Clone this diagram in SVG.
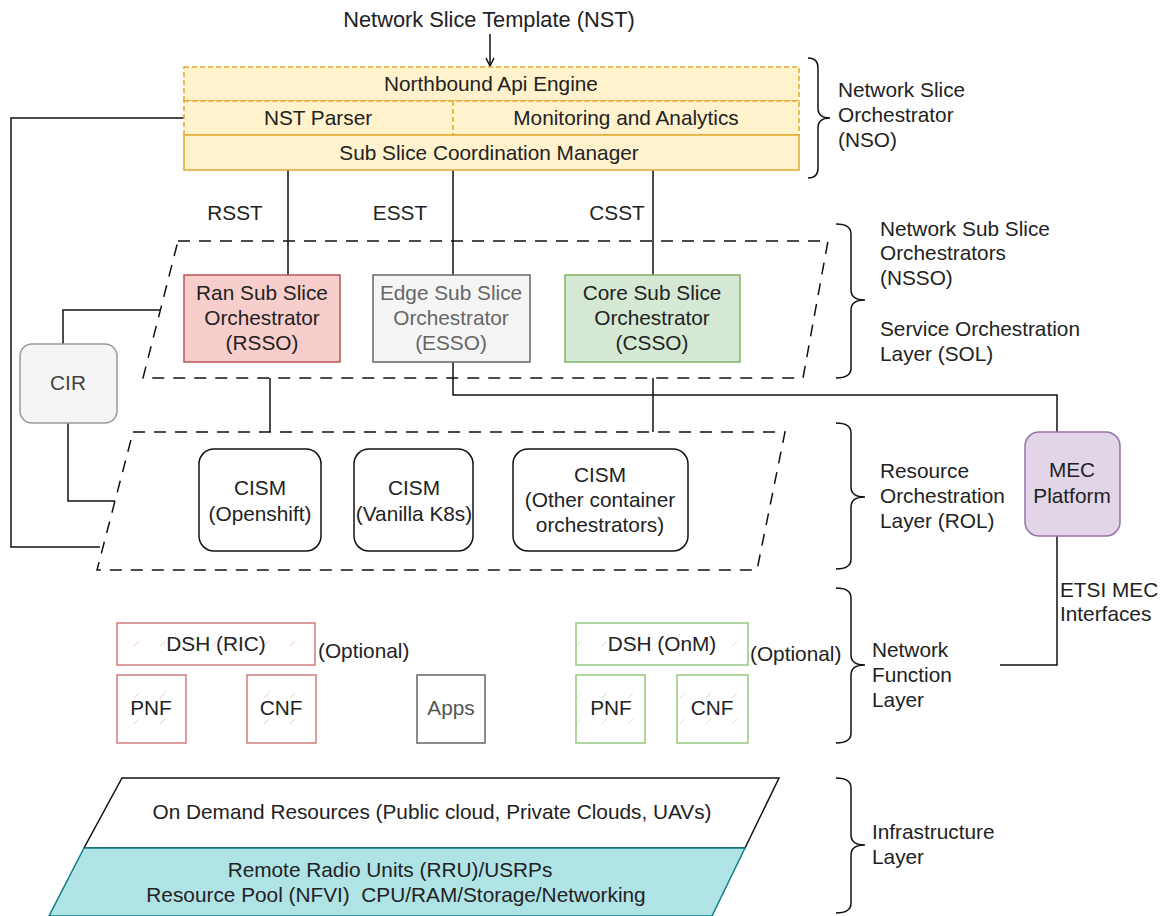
<svg xmlns="http://www.w3.org/2000/svg" width="1170" height="916" viewBox="0 0 1170 916">
<defs>
<style>
text{font-family:"Liberation Sans",Arial,sans-serif;font-size:20.8px;fill:#222}
.c{text-anchor:middle}
.ln{fill:none;stroke:#111;stroke-width:1.5}
.dash{fill:none;stroke:#111;stroke-width:1.5;stroke-dasharray:12 9}
.brace{fill:none;stroke:#111;stroke-width:1.5}
.nso{fill:#fff2cc;stroke:#e0a82e;stroke-width:1.5}
.nsod{fill:#fff2cc;stroke:#e0a82e;stroke-width:1.5;stroke-dasharray:5 3}
.cism{fill:#fff;stroke:#111;stroke-width:1.5}
.red{fill:url(#hr);stroke:#d07f7c;stroke-width:1.5}
.grn{fill:url(#hg);stroke:#97c77e;stroke-width:1.5}
</style>
<pattern id="hr" width="26" height="26" patternUnits="userSpaceOnUse"><rect width="26" height="26" fill="#fff"/><path d="M4 22 L9 17" stroke="#f4c4c2" stroke-width="1"/></pattern>
<pattern id="hg" width="26" height="26" patternUnits="userSpaceOnUse"><rect width="26" height="26" fill="#fff"/><path d="M4 22 L9 17" stroke="#cfe7c2" stroke-width="1"/></pattern>
<marker id="arr" viewBox="0 0 10 10" refX="9" refY="5" markerWidth="10" markerHeight="10" orient="auto" markerUnits="userSpaceOnUse"><path d="M1 1 L9 5 L1 9" fill="none" stroke="#111" stroke-width="1.5"/></marker>
</defs>

<g id="connectors">
<line class="ln" x1="490" y1="34" x2="490" y2="66" marker-end="url(#arr)"/>
<line class="ln" x1="288" y1="170" x2="288" y2="275"/>
<line class="ln" x1="453" y1="170" x2="453" y2="275"/>
<line class="ln" x1="653" y1="170" x2="653" y2="275"/>
<polyline class="ln" points="184,118 11,118 11,547 100,547"/>
<polyline class="ln" points="63,345 63,310 160,310"/>
<polyline class="ln" points="68,423 68,501 115,501"/>
<line class="ln" x1="270" y1="378" x2="270" y2="432"/>
<line class="ln" x1="653" y1="378" x2="653" y2="432"/>
<polyline class="ln" points="453,362 453,395 1057,395 1057,432"/>
<polyline class="ln" points="1057,536 1057,665 1000,665"/>
</g>

<g id="label-nst"><text class="c" x="489" y="27" style="font-size:21.8px">Network Slice Template (NST)</text></g>

<g id="nso">
<rect class="nsod" x="184" y="67" width="615" height="34"/>
<rect class="nsod" x="184" y="101" width="615" height="34"/>
<line x1="453" y1="101" x2="453" y2="135" stroke="#e0a82e" stroke-width="1.5" stroke-dasharray="5 3"/>
<rect class="nso" x="184" y="135" width="615" height="35"/>
<text class="c" x="491" y="91">Northbound Api Engine</text>
<text class="c" x="318" y="125">NST Parser</text>
<text class="c" x="626" y="125">Monitoring and Analytics</text>
<text class="c" x="489" y="160">Sub Slice Coordination Manager</text>
</g>

<g id="edge-labels">
<text class="c" x="235" y="220">RSST</text>
<text class="c" x="400" y="220">ESST</text>
<text class="c" x="617" y="220">CSST</text>
</g>

<g id="sol"><polygon class="dash" points="178,241 828,241 803,378 143,378"/></g>

<g id="rsso">
<rect x="184" y="275" width="156" height="87" fill="#f8cecc" stroke="#b85450" stroke-width="1.5"/>
<text class="c" x="262" y="300">Ran Sub Slice</text>
<text class="c" x="262" y="325">Orchestrator</text>
<text class="c" x="262" y="350">(RSSO)</text>
</g>
<g id="esso">
<rect x="373" y="275" width="157" height="87" fill="#f5f5f5" stroke="#666" stroke-width="1.5"/>
<text class="c" x="451" y="300" style="fill:#666">Edge Sub Slice</text>
<text class="c" x="451" y="325" style="fill:#666">Orchestrator</text>
<text class="c" x="451" y="350" style="fill:#666">(ESSO)</text>
</g>
<g id="csso">
<rect x="565" y="275" width="175" height="87" fill="#d5e8d4" stroke="#82b366" stroke-width="1.5"/>
<text class="c" x="652" y="300">Core Sub Slice</text>
<text class="c" x="652" y="325">Orchestrator</text>
<text class="c" x="652" y="350">(CSSO)</text>
</g>

<g id="cir">
<rect x="20" y="344" width="97" height="79" rx="12" fill="#f5f5f5" stroke="#999" stroke-width="1.5"/>
<text class="c" x="68" y="390" style="fill:#444">CIR</text>
</g>

<g id="rol"><polygon class="dash" points="133,432 785,432 757,570 97,570"/></g>

<g id="cism-openshift">
<rect class="cism" x="199" y="449" width="122" height="102" rx="15"/>
<text class="c" x="260" y="495">CISM</text>
<text class="c" x="260" y="521">(Openshift)</text>
</g>
<g id="cism-vanilla">
<rect class="cism" x="354" y="449" width="119" height="102" rx="15"/>
<text class="c" x="414" y="495">CISM</text>
<text class="c" x="414" y="521">(Vanilla K8s)</text>
</g>
<g id="cism-other">
<rect class="cism" x="513" y="449" width="175" height="102" rx="15"/>
<text class="c" x="600" y="482">CISM</text>
<text class="c" x="600" y="507">(Other container</text>
<text class="c" x="600" y="532">orchestrators)</text>
</g>

<g id="mec">
<rect x="1025" y="432" width="95" height="104" rx="14" fill="#e1d5e7" stroke="#9673a6" stroke-width="1.5"/>
<text class="c" x="1072" y="477">MEC</text>
<text class="c" x="1072" y="503">Platform</text>
</g>
<g id="etsi-label">
<text x="1060" y="597">ETSI MEC</text>
<text x="1060" y="621">Interfaces</text>
</g>

<g id="dsh-ric"><rect class="red" x="117" y="623" width="198" height="42"/><text class="c" x="216" y="651">DSH (RIC)</text></g>
<g id="opt1"><text x="318" y="658">(Optional)</text></g>
<g id="pnf-red"><rect class="red" x="117" y="675" width="69" height="68"/><text class="c" x="151" y="715">PNF</text></g>
<g id="cnf-red"><rect class="red" x="247" y="675" width="69" height="68"/><text class="c" x="281" y="715">CNF</text></g>
<g id="apps"><rect x="417" y="675" width="68" height="68" fill="#fff" stroke="#666" stroke-width="1.5"/><text class="c" x="451" y="715" style="fill:#555">Apps</text></g>
<g id="dsh-onm"><rect class="grn" x="576" y="623" width="172" height="42"/><text class="c" x="662" y="651">DSH (OnM)</text></g>
<g id="opt2"><text x="750" y="661">(Optional)</text></g>
<g id="pnf-green"><rect class="grn" x="576" y="675" width="69" height="68"/><text class="c" x="611" y="715">PNF</text></g>
<g id="cnf-green"><rect class="grn" x="677" y="675" width="71" height="68"/><text class="c" x="712" y="715">CNF</text></g>

<g id="on-demand">
<polygon points="122,778 779,778 745,848 84,848" fill="#fff" stroke="#111" stroke-width="1.5"/>
<text class="c" x="432" y="819">On Demand Resources (Public cloud, Private Clouds, UAVs)</text>
</g>
<g id="resource-pool">
<polygon points="84,848 745,848 712,916 49,916" fill="#b0e3e6" stroke="#0e8088" stroke-width="1.5"/>
<text class="c" x="390" y="877">Remote Radio Units (RRU)/USRPs</text>
<text class="c" x="396" y="902">Resource Pool (NFVI)&#160; CPU/RAM/Storage/Networking</text>
</g>

<g id="brace-nso">
<path class="brace" d="M808,58 Q818,58 818,68 L818,108 Q818,118 830,118 Q818,118 818,128 L818,168 Q818,178 808,178"/>
<text x="838" y="97">Network Slice</text><text x="838" y="122">Orchestrator</text><text x="838" y="147">(NSO)</text>
</g>
<g id="brace-sol">
<path class="brace" d="M836,224 Q851,224 851,234 L851,290 Q851,300 865,300 Q851,300 851,310 L851,368 Q851,378 836,378"/>
<text x="880" y="236">Network Sub Slice</text><text x="880" y="260">Orchestrators</text><text x="880" y="285">(NSSO)</text>
<text x="880" y="336">Service Orchestration</text><text x="880" y="361">Layer (SOL)</text>
</g>
<g id="brace-rol">
<path class="brace" d="M836,423 Q851,423 851,433 L851,487 Q851,497 865,497 Q851,497 851,507 L851,559 Q851,569 836,569"/>
<text x="880" y="478">Resource</text><text x="880" y="503">Orchestration</text><text x="880" y="528">Layer (ROL)</text>
</g>
<g id="brace-nfl">
<path class="brace" d="M836,588 Q851,588 851,598 L851,655 Q851,665 865,665 Q851,665 851,675 L851,733 Q851,743 836,743"/>
<text x="872" y="657">Network</text><text x="872" y="682">Function</text><text x="872" y="707">Layer</text>
</g>
<g id="brace-infra">
<path class="brace" d="M836,778 Q851,778 851,788 L851,835 Q851,845 865,845 Q851,845 851,855 L851,903 Q851,913 836,913"/>
<text x="872" y="839">Infrastructure</text><text x="872" y="864">Layer</text>
</g>
</svg>
